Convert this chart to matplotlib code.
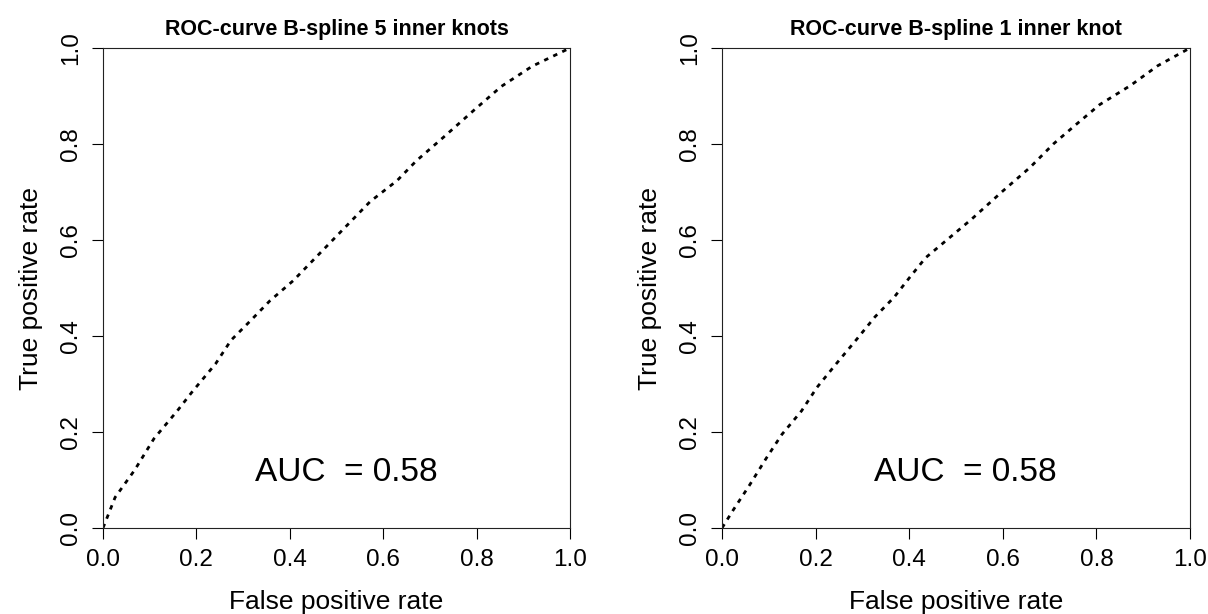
#!/usr/bin/env python3
"""ROC curves for two B-spline models, drawn side by side."""

import matplotlib
matplotlib.use('Agg')
import matplotlib.pyplot as plt

plt.rcParams['font.family'] = ['Liberation Sans', 'DejaVu Sans']

# ROC curve, B-spline with 5 inner knots
fpr_5knots = [0.0, 0.026, 0.068, 0.109, 0.159, 0.192, 0.241, 0.274, 0.316, 0.357, 0.407,
              0.464, 0.522, 0.572, 0.630, 0.671, 0.729, 0.795, 0.853, 0.919, 1.0]
tpr_5knots = [0.0, 0.064, 0.121, 0.186, 0.244, 0.285, 0.342, 0.391, 0.432, 0.473, 0.515,
              0.572, 0.630, 0.680, 0.724, 0.765, 0.814, 0.871, 0.920, 0.962, 1.0]

# ROC curve, B-spline with 1 inner knot
fpr_1knot = [0.0, 0.025, 0.058, 0.095, 0.128, 0.170, 0.203, 0.244, 0.286, 0.327, 0.368,
             0.401, 0.435, 0.484, 0.534, 0.600, 0.658, 0.708, 0.757, 0.807, 0.873, 0.931, 1.0]
tpr_1knot = [0.0, 0.039, 0.088, 0.146, 0.195, 0.244, 0.293, 0.342, 0.391, 0.440, 0.481,
             0.522, 0.563, 0.603, 0.644, 0.702, 0.751, 0.800, 0.841, 0.882, 0.922, 0.963, 1.0]

titles = ['ROC-curve B-spline 5 inner knots', 'ROC-curve B-spline 1 inner knot']
auc_values = [0.58, 0.58]
ticks = [0.0, 0.2, 0.4, 0.6, 0.8, 1.0]
tick_labels = ['0.0', '0.2', '0.4', '0.6', '0.8', '1.0']

fig = plt.figure(figsize=(12.08, 6.14), dpi=100)
fig.patch.set_facecolor('white')

boxes = [(103 / 1208, 86 / 614, 467 / 1208, 480 / 614),
         (722 / 1208, 86 / 614, 468 / 1208, 480 / 614)]
curves = [(fpr_5knots, tpr_5knots), (fpr_1knot, tpr_1knot)]

for box, (fpr, tpr), title, auc in zip(boxes, curves, titles, auc_values):
    ax = fig.add_axes(box)
    ax.plot(fpr, tpr, color='black', linewidth=2.0, linestyle=(0, (1.6, 2.0)),
            dash_capstyle='butt')
    ax.set_xlim(0, 1)
    ax.set_ylim(0, 1)

    ax.set_xticks(ticks)
    ax.set_xticklabels(tick_labels)
    ax.set_yticks(ticks)
    ax.set_yticklabels(tick_labels, rotation=90, va='center')
    ax.tick_params(axis='both', direction='out', length=8, width=0.8,
                   labelsize=17.5, color='black')
    ax.tick_params(axis='x', pad=7)
    ax.tick_params(axis='y', pad=7)

    for spine in ax.spines.values():
        spine.set_linewidth(0.8)
        spine.set_color('#222222')

    ax.set_xlabel('False positive rate', fontsize=19, labelpad=13.5)
    ax.set_ylabel('True positive rate', fontsize=19, labelpad=12)
    ax.set_title(title, fontsize=15.5, fontweight='bold', pad=9)

    ax.text(0.52, 0.115, f'AUC  = {auc:.2f}', fontsize=24,
            ha='center', va='center', transform=ax.transData)

plt.savefig('out.png', dpi=100, facecolor='white')
